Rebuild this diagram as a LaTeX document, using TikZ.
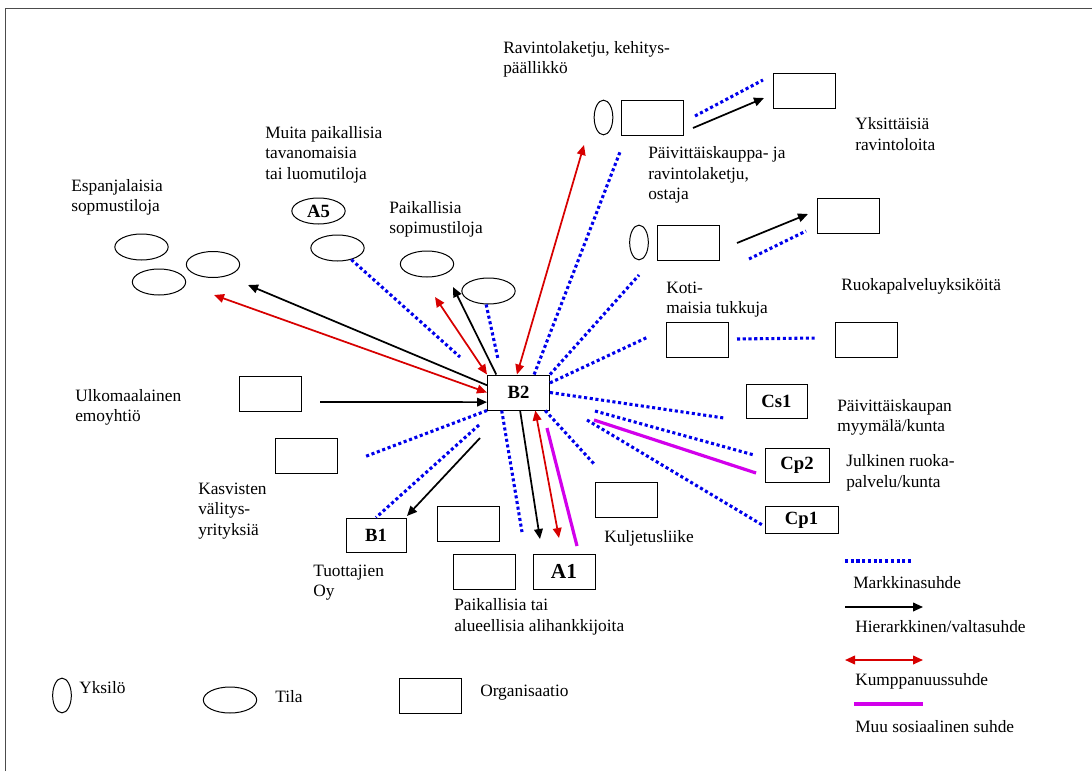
\documentclass[tikz,border=0pt]{standalone}
\usepackage{fontspec}
\setmainfont{Liberation Serif}
\usetikzlibrary{arrows.meta,shapes.geometric,positioning}
\definecolor{mblue}{RGB}{0,0,235}
\definecolor{pred}{RGB}{215,0,0}
\definecolor{smag}{RGB}{210,0,235}
\tikzset{
    org/.style={
    rectangle,draw=black,line width=0.75pt,minimum width=46.5pt,minimum height=26.25pt,inner sep=0pt,font=\bfseries\fontsize{14}{16}\selectfont
    },
    farm/.style={
    ellipse,draw=black,line width=0.75pt,minimum width=40pt,minimum height=19.5pt,inner sep=0pt,font=\bfseries\fontsize{14}{16}\selectfont
    },
    person/.style={
    ellipse,draw=black,line width=0.75pt,minimum width=14pt,minimum height=26pt,inner sep=0pt
    },
    lbl/.style={
    align=left,anchor=west,inner sep=0pt
    },
    market/.style={
    draw=mblue,line width=2.3pt,dash pattern=on 2.3pt off 2pt
    },
    power/.style={
    draw=black,line width=1.3pt,-{Triangle[length=7.5pt,width=6.5pt]}
    },
    partner/.style={
    draw=pred,line width=1.3pt,{Triangle[length=7.5pt,width=6.5pt]}-{Triangle[length=7.5pt,width=6.5pt]}
    },
    social/.style={
    draw=smag,line width=2.4pt
    },
}

\begin{document}
\begin{tikzpicture}[x=0.75pt,y=-0.75pt,font=\fontsize{13}{15.4}\selectfont]
   \useasboundingbox (0,0) rectangle (1092,771);
   \draw[line width=0.6pt,black!70] (5,771) -- (5,8) -- (1092,8);

   % centre
   \node[org] (B2) at (518.5,392.5) {B2};

   % farms
   \node[farm] (S1) at (141.5,247) {};
   \node[farm] (S2) at (213,264.5) {};
   \node[farm] (S3) at (159,282) {};
   \node[farm] (A5) at (318.5,211) {A5};
   \node[farm] (T1) at (337.5,248) {};
   \node[farm] (T3) at (427,264) {};
   \node[farm] (T4) at (488.5,291) {};

   % buyers
   \node[person] (I1) at (603.5,117.5) {};
   \node[org] (R1) at (652.5,117.5) {};
   \node[org] (R2) at (804,91) {};
   \node[person] (I2) at (639,242.5) {};
   \node[org] (R3) at (688,242.5) {};
   \node[org] (R4) at (848.5,215.5) {};
   \node[org] (Koti) at (697,339.5) {};
   \node[org] (Ruoka) at (866,339.5) {};
   \node[org,minimum width=45.75pt,minimum height=25.5pt] (Cs1) at (776.5,401) {Cs1};
   \node[org,minimum width=48pt,minimum height=25.5pt] (Cp2) at (797,465) {Cp2};
   \node[org,minimum width=54.75pt,minimum height=20pt] (Cp1) at (801.5,520) {Cp1};
   \node[org] (Kulj) at (626,500) {};

   % suppliers
   \node[org] (P1) at (468,523.5) {};
   \node[org] (P2) at (484,571.5) {};
   \node[org,font=\bfseries\fontsize{16}{18}\selectfont] (A1) at (564,571.5) {A1};
   \node[org,minimum width=45pt,minimum height=25.5pt] (B1) at (376,535) {B1};
   \node[org] (Kasv) at (306,455.5) {};
   \node[org] (Ulko) at (270.5,393.5) {};

   % texts
   \node[lbl] (tRav) at (503,59.5) {Ravintolaketju, kehitys-\\päällikkö};
   \node[lbl] (tYks) at (855,134) {Yksittäisiä\\ravintoloita};
   \node[lbl] (tPaiv) at (648,175) {Päivittäiskauppa- ja\\ravintolaketju,\\ostaja};
   \node[lbl] (tKoti) at (666,299.5) {Koti-\\maisia tukkuja};
   \node[lbl] (tRuoka) at (841,286) {Ruokapalveluyksiköitä};
   \node[lbl] (tMyy) at (837,417.5) {Päivittäiskaupan\\myymälä/kunta};
   \node[lbl] (tJulk) at (846,473) {Julkinen ruoka-\\palvelu/kunta};
   \node[lbl] (tKulj) at (604,538) {Kuljetusliike};
   \node[lbl] (tAli) at (454,617) {Paikallisia tai\\alueellisia alihankkijoita};
   \node[lbl] (tTuo) at (313,582.5) {Tuottajien\\Oy};
   \node[lbl] (tKasv) at (198,511) {Kasvisten\\välitys-\\yrityksiä};
   \node[lbl] (tUlko) at (75,407.5) {Ulkomaalainen\\emoyhtiö};
   \node[lbl] (tEsp) at (71,197.5) {Espanjalaisia\\sopmustiloja};
   \node[lbl] (tMuita) at (265,154.5) {Muita paikallisia\\tavanomaisia\\tai luomutiloja};
   \node[lbl] (tSop) at (389,219.5) {Paikallisia\\sopimustiloja};

   % loose ends
   \coordinate (eSp1) at (248,285);
   \coordinate (eSp2) at (214,295);
   \coordinate (eT1) at (460,357);
   \coordinate (eT3) at (435,297);
   \coordinate (eT3b) at (453,287);
   \coordinate (eT4) at (498,359);
   \coordinate (eR1a) at (584,145);
   \coordinate (eR1b) at (620,152);
   \coordinate (eR3) at (639,275);
   \coordinate (eKoti) at (648,337);
   \coordinate (eCs1) at (724,418);
   \coordinate (sCp2) at (595,411);
   \coordinate (eCp2) at (754,455);
   \coordinate (sMag) at (594,420);
   \coordinate (eMag) at (756,473);
   \coordinate (sCp1) at (587,420);
   \coordinate (eCp1) at (764,526);
   \coordinate (eKulj) at (595,465);
   \coordinate (sA1m) at (547,428);
   \coordinate (eA1m) at (577,546);
   \coordinate (eA1r) at (559,538);
   \coordinate (eA1k) at (540,539);
   \coordinate (eP2) at (522,532);
   \coordinate (sB1d) at (479,425);
   \coordinate (sB1k) at (480,438);
   \coordinate (eB1k) at (407,516);
   \coordinate (eKasv) at (364,457);
   \coordinate (sUlko) at (320,402);
   \coordinate (sR12d) at (695,116);
   \coordinate (eR12d) at (763,80);
   \coordinate (sR12k) at (693,128);
   \coordinate (eR12k) at (764,98);
   \coordinate (sR34d) at (749,259);
   \coordinate (eR34d) at (806,231);
   \coordinate (sR34k) at (737,243);
   \coordinate (eR34k) at (808,214);
   \coordinate (sKR) at (737,339);
   \coordinate (eKR) at (817,338);

   % relations
   \draw[power] (B2.167) -- (eSp1);
   \draw[partner] (eSp2) -- (B2.west);
   \draw[market] (T1.-40) -- (eT1);
   \draw[partner] (eT3) -- (B2.north west);
   \draw[power] (B2.141) -- (eT3b);
   \draw[market] (T4.-100) -- (eT4);
   \draw[partner] (B2.95) -- (eR1a);
   \draw[market] (B2.49) -- (eR1b);
   \draw[market] (B2.north east) -- (eR3);
   \draw[market] (B2.17) -- (eKoti);
   \draw[market] (B2.east) -- (eCs1);
   \draw[market] (sCp2) -- (eCp2);
   \draw[social] (sMag) -- (eMag);
   \draw[market] (sCp1) -- (eCp1);
   \draw[market] (B2.-34) -- (eKulj);
   \draw[social] (sA1m) -- (eA1m);
   \draw[partner] (B2.-47) -- (eA1r);
   \draw[power] (B2.-85) -- (eA1k);
   \draw[market] (B2.-133) -- (eP2);
   \draw[market] (sB1d) -- (B1.north);
   \draw[power] (sB1k) -- (eB1k);
   \draw[market] (B2.south west) -- (eKasv);
   \draw[power] (sUlko) -- (B2.197);
   \draw[market] (sR12d) -- (eR12d);
   \draw[power] (sR12k) -- (eR12k);
   \draw[market] (sR34d) -- (eR34d);
   \draw[power] (sR34k) -- (eR34k);
   \draw[market] (sKR) -- (eKR);

   % legend
   \node[person] (LI) at (62,695.5) {};
   \node[lbl] (tLI) at (79,688) {Yksilö};
   \node[farm] (LT) at (230,700) {};
   \node[lbl] (tLT) at (275,697) {Tila};
   \node[org] (LO) at (430,695.5) {};
   \node[lbl] (tLO) at (480,693) {Organisaatio};
   \coordinate (lm1) at (845,561);
   \coordinate (lm2) at (912,561);
   \coordinate (lp1) at (845,607);
   \coordinate (lp2) at (923,607);
   \coordinate (lr1) at (845,660);
   \coordinate (lr2) at (923,660);
   \coordinate (ls1) at (854,704);
   \coordinate (ls2) at (923,704);
   \draw[market] (lm1) -- (lm2);
   \draw[power] (lp1) -- (lp2);
   \draw[partner] (lr1) -- (lr2);
   \draw[social] (ls1) -- (ls2);
   \node[lbl] (tLm) at (853,583) {Markkinasuhde};
   \node[lbl] (tLp) at (855,627) {Hierarkkinen/valtasuhde};
   \node[lbl] (tLr) at (855,681) {Kumppanuussuhde};
   \node[lbl] (tLs) at (855,727) {Muu sosiaalinen suhde};
\end{tikzpicture}
\end{document}
